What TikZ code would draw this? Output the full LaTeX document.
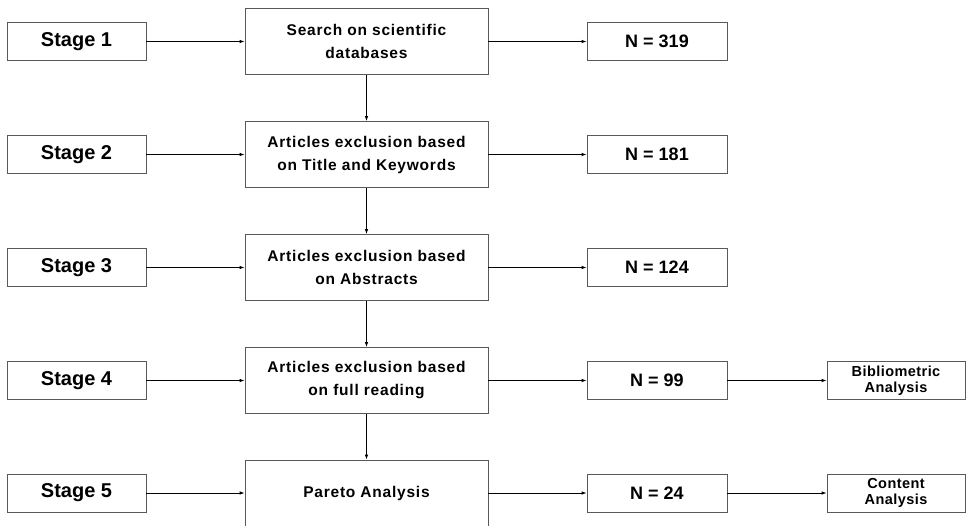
\documentclass[tikz,border=0pt]{standalone}
\usepackage{fontspec}
\setmainfont{Liberation Sans}
\usepackage{tikz}
\usetikzlibrary{arrows.meta,positioning}

\begin{document}
\begin{tikzpicture}[x=1pt,y=1pt,
  box/.style={draw=black!65,line width=0.8pt,fill=white,inner sep=0pt,align=center,font=\bfseries},
  stagebox/.style={box,minimum width=139pt,minimum height=38pt,font=\bfseries\fontsize{20}{22}\selectfont},
  mainbox/.style={box,minimum width=243pt,minimum height=66pt,font=\bfseries\fontsize{15.5}{23}\selectfont\addfontfeatures{LetterSpace=5}},
  countbox/.style={box,minimum width=140pt,minimum height=38pt,font=\bfseries\fontsize{18}{22}\selectfont},
  resultbox/.style={box,minimum width=138pt,minimum height=38pt,font=\bfseries\fontsize{14.5}{16.5}\selectfont\addfontfeatures{LetterSpace=3}},
  link/.style={-{Latex[length=5pt,width=3.5pt]},line width=0.8pt,black}]
\useasboundingbox (0,0) rectangle (968,-526);
% stages
\node[stagebox] (stage1) at (76.5,-41.5) {Stage 1};
\node[stagebox] (stage2) at (76.5,-154.5) {Stage 2};
\node[stagebox] (stage3) at (76.5,-267.5) {Stage 3};
\node[stagebox] (stage4) at (76.5,-380.5) {Stage 4};
\node[stagebox] (stage5) at (76.5,-493) {Stage 5};
% steps
\node[mainbox] (search) at (366.5,-41.5) {Search on scientific\\databases};
\node[mainbox] (title) at (366.5,-154.5) {Articles exclusion based\\on Title and Keywords};
\node[mainbox] (abstract) at (366.5,-267.5) {Articles exclusion based\\on Abstracts};
\node[mainbox] (reading) at (366.5,-380.5) {Articles exclusion based\\on full reading};
\node[mainbox] (pareto) at (366.5,-493) {Pareto Analysis};
% counts
\node[countbox] (n1) at (657,-41.5) {N = 319};
\node[countbox] (n2) at (657,-154.5) {N = 181};
\node[countbox] (n3) at (657,-267.5) {N = 124};
\node[countbox] (n4) at (657,-380.5) {N = 99};
\node[countbox] (n5) at (657,-493) {N = 24};
% analyses
\node[resultbox] (biblio) at (896,-380.5) {Bibliometric\\Analysis};
\node[resultbox] (content) at (896,-493) {Content\\Analysis};
% arrows
\draw[link] (stage1) -- (search);
\draw[link] (stage2) -- (title);
\draw[link] (stage3) -- (abstract);
\draw[link] (stage4) -- (reading);
\draw[link] (stage5) -- (pareto);
\draw[link] (search) -- (n1);
\draw[link] (title) -- (n2);
\draw[link] (abstract) -- (n3);
\draw[link] (reading) -- (n4);
\draw[link] (pareto) -- (n5);
\draw[link] (search) -- (title);
\draw[link] (title) -- (abstract);
\draw[link] (abstract) -- (reading);
\draw[link] (reading) -- (pareto);
\draw[link] (n4) -- (biblio);
\draw[link] (n5) -- (content);
\end{tikzpicture}
\end{document}
